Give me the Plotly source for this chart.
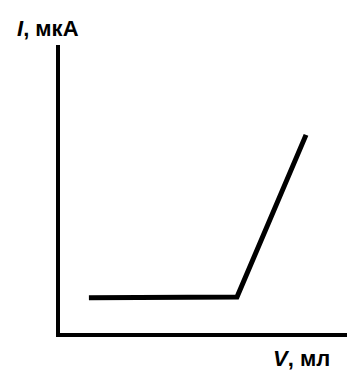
import plotly.graph_objects as go

# Titration curve (amperometric): volume of titrant vs current
V_ml = [0.98, 6.0, 8.34]
I_uA = [1.22, 1.25, 6.88]

# The page body adds an 8 px offset, so the figure geometry is shifted by it.
OFF = 8
L, T, W, H = 60 - OFF, 45 - OFF, 295, 288
FW, FH = 355, 385


def px(fx):
    return (fx - L) / W


def py(fy):
    return (T + H - fy) / H


fig = go.Figure()
fig.add_trace(go.Scatter(x=V_ml, y=I_uA, mode="lines",
                         line=dict(color="black", width=5),
                         showlegend=False, hoverinfo="skip"))

fig.update_layout(
    width=FW, height=FH,
    margin=dict(l=L, r=FW - L - W, t=T, b=FH - T - H, pad=0),
    paper_bgcolor="white", plot_bgcolor="white",
    xaxis=dict(range=[0, 10], showgrid=False, zeroline=False, showticklabels=False,
               ticks="", showline=True, linecolor="black", linewidth=3.5),
    yaxis=dict(range=[0, 10], showgrid=False, zeroline=False, showticklabels=False,
               ticks="", showline=True, linecolor="black", linewidth=3.5),
    font=dict(family="Liberation Sans, Arial, sans-serif", color="black"),
    annotations=[
        dict(text="<b><i>I</i>, мкА</b>", xref="paper", yref="paper",
             x=px(15 - OFF), y=py(28 - OFF), xanchor="left", yanchor="middle",
             showarrow=False, font=dict(size=22)),
        dict(text="<b><i>V</i>, мл</b>", xref="paper", yref="paper",
             x=px(271 - OFF), y=py(358 - OFF), xanchor="left", yanchor="middle",
             showarrow=False, font=dict(size=22)),
    ],
)
fig.write_html("out.html")
